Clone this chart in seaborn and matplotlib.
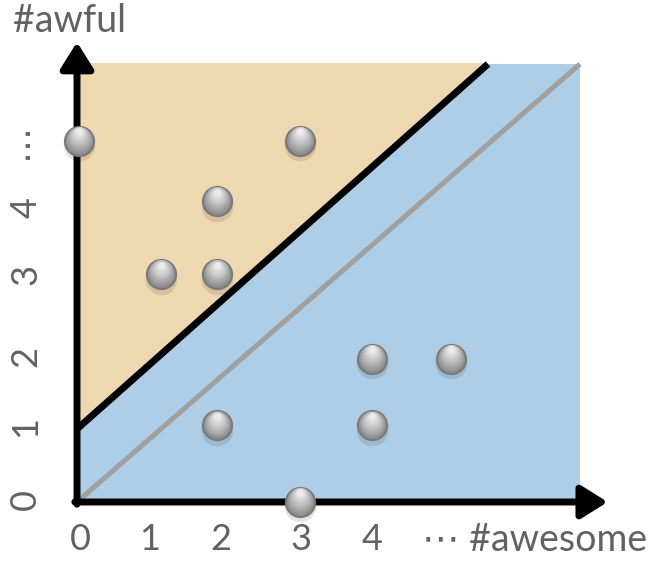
import matplotlib
matplotlib.use("Agg")
import matplotlib.pyplot as plt
import seaborn as sns
import numpy as np
import pandas as pd

# data (in grid units)
pts_x = [0.03, 3.05, 1.92, 1.15, 1.92, 4.04, 5.12, 1.92, 4.04, 3.05]
pts_y = [4.95, 4.95, 4.12, 3.12, 3.12, 1.96, 1.96, 1.05, 1.05, 0.0]
x_ticks = [0.04, 1.0, 1.97, 3.07, 4.04]
x_labels = ["0", "1", "2", "3", "4"]
y_ticks = [0.03, 1.03, 1.99, 3.12, 4.04, 4.95]
y_labels = ["0", "1", "2", "3", "4", "\u22ef"]
boundary_x = [0.0, 5.63]
boundary_y = [1.0, 6.0]
diag_x = [0.0, 6.89]
diag_y = [0.0, 6.0]
x_title = "\u22ef #awesome"
y_title = "#awful"

sns.set_theme(style="white")
plt.rcParams["font.family"] = ["Lato", "DejaVu Sans"]
TXT = "#626262"
FS = 27
TFS = 26

W, H = 648, 561
unit = 73.0
fig = plt.figure(figsize=(W / 100, H / 100), dpi=100)
ax = fig.add_axes([77 / W, 59 / H, 533 / W, 472 / H])
ax.set_xlim(0, 533 / unit)
ax.set_ylim(0, 472 / unit)
for s in ax.spines.values():
    s.set_visible(False)
ax.set_facecolor("none")

top = boundary_y[1]
# blue region (below boundary), orange region (above)
ax.fill([0, 6.89, 6.89, boundary_x[1], 0], [0, 0, top, top, boundary_y[0]],
        color="#AECDE6", lw=0, zorder=1)
ax.fill([0, 0, boundary_x[1]], [boundary_y[0], top + 0.02, top + 0.02],
        color="#EED8B0", lw=0, zorder=1)

lines = pd.DataFrame({"x": diag_x + boundary_x, "y": diag_y + boundary_y,
                      "k": ["diag", "diag", "bound", "bound"]})
sns.lineplot(data=lines, x="x", y="y", hue="k",
             palette={"diag": "#A0A0A0", "bound": "black"},
             legend=False, ax=ax, zorder=2)
ax.lines[0].set_linewidth(3.6)
ax.lines[1].set_linewidth(5)
for l in ax.lines:
    l.set_solid_capstyle("butt")

# axes arrows
arrow = dict(arrowstyle="-|>,head_length=0.8,head_width=0.5", lw=5, color="black",
             shrinkA=0, shrinkB=0, mutation_scale=20)
ax.annotate("", xy=(7.27, 0), xytext=(-0.03, 0), arrowprops=arrow,
            annotation_clip=False, zorder=5)
ax.annotate("", xy=(0, 6.3), xytext=(0, -0.03), arrowprops=arrow,
            annotation_clip=False, zorder=5)

# sphere-like markers: shadow, rim, then smooth vertical gradient layers
df = pd.DataFrame({"x": pts_x, "y": pts_y})
sns.scatterplot(data=df.assign(y=df.y - 0.06), x="x", y="y", s=520, color="black",
                alpha=0.10, linewidth=0, ax=ax, zorder=6, clip_on=False)
sns.scatterplot(data=df, x="x", y="y", s=440, color="#8a8a8a", edgecolor="#7a7a7a",
                linewidth=1.5, ax=ax, zorder=7, clip_on=False)
n = 10
for i in range(1, n + 1):
    f = i / n
    size = 400 * (1 - f) ** 1.3 + 20
    shade = 0x8a + int((0xec - 0x8a) * f)
    col = "#%02x%02x%02x" % (shade, shade, shade)
    dy = 0.13 * f
    sns.scatterplot(data=df.assign(y=df.y + dy), x="x", y="y", s=size, color=col,
                    linewidth=0, ax=ax, zorder=7 + i, clip_on=False)

ax.set_xticks(x_ticks)
ax.set_xticklabels(x_labels)
ax.set_yticks(y_ticks)
ax.set_yticklabels(y_labels, rotation=90, va="center")
ax.tick_params(axis="x", length=0, pad=15, labelsize=TFS, labelcolor=TXT)
ax.tick_params(axis="y", length=0, pad=25, labelsize=TFS, labelcolor=TXT)
ax.set_xlabel("")
ax.set_ylabel("")

fig.text(647 / W, 1 - 540 / H, x_title, ha="right", va="center", fontsize=FS, color=TXT)
fig.text(13 / W, 1 - 21 / H, y_title, ha="left", va="center", fontsize=FS, color=TXT)

fig.savefig("out.png", dpi=100)
